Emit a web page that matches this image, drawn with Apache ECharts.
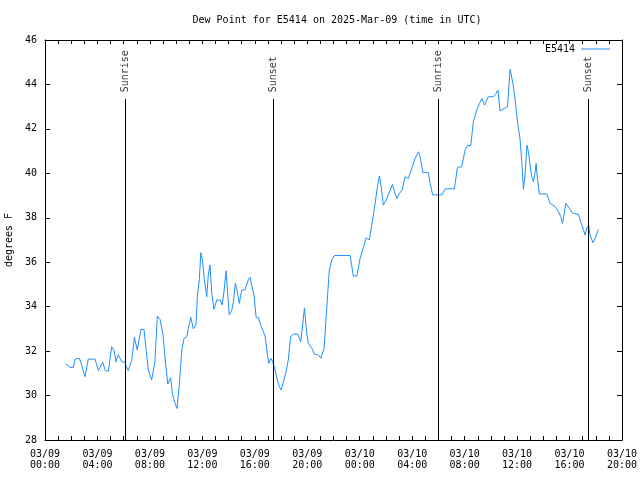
<!DOCTYPE html>
<html><head><meta charset="utf-8">
<script src="https://cdn.jsdelivr.net/npm/echarts@6/dist/echarts.min.js"></script>
<style>html,body{margin:0;padding:0;background:#fff}#c{width:640px;height:480px}</style>
</head><body><div id="c"></div>
<script>
const stationName = 'E5414';
const titleText = 'Dew Point for E5414 on 2025-Mar-09 (time in UTC)';
const yAxisName = 'degrees F';
const startUTC = Date.UTC(2025, 2, 9, 0, 0);
const spanHours = 44;
const tickHours = 4;
const yMin = 28, yMax = 46, yStep = 2;

// minutes since 2025-03-09 00:00 UTC
const minutes = [96,114,130,137,157,168,183,198,229,244,264,276,290,305,316,325,335,351,366,371,381,397,409,422,439,453,462,473,488,503,514,526,539,554,562,575,584,595,604,615,626,636,649,656,667,679,691,697,706,713,720,729,740,747,755,763,773,786,801,811,819,828,843,854,862,871,880,889,900,915,930,938,947,957,966,976,984,996,1007,1017,1024,1033,1042,1053,1063,1072,1081,1091,1103,1113,1124,1136,1156,1170,1179,1187,1198,1205,1221,1232,1251,1262,1277,1285,1294,1301,1312,1324,1396,1404,1411,1427,1442,1457,1469,1484,1495,1507,1521,1530,1538,1548,1561,1576,1590,1599,1610,1622,1634,1648,1663,1678,1693,1709,1716,1729,1754,1762,1774,1816,1831,1873,1887,1907,1922,1933,1948,1960,1976,1988,1999,2011,2029,2052,2064,2072,2082,2101,2116,2128,2141,2151,2163,2174,2182,2189,2197,2205,2212,2220,2227,2235,2243,2247,2253,2262,2296,2311,2334,2349,2360,2368,2383,2403,2415,2441,2453,2464,2471,2479,2487,2494,2507,2517,2532];
const dewPoint = [31.42,31.27,31.27,31.64,31.68,31.37,30.85,31.64,31.64,31.12,31.5,31.12,31.1,32.2,32.02,31.52,31.84,31.52,31.5,31.33,31.12,31.6,32.62,32.05,32.98,32.98,32.12,31.15,30.7,31.52,33.58,33.43,32.8,31.22,30.52,30.8,30.03,29.65,29.42,30.55,32.05,32.57,32.65,33.03,33.52,33.0,33.2,34.45,35.23,36.43,36.1,35.23,34.45,35.43,35.88,34.6,33.88,34.3,34.3,34.08,34.68,35.62,33.63,33.82,34.22,35.05,34.68,34.15,34.75,34.75,35.2,35.32,35.32,34.45,33.52,33.52,33.25,32.95,32.68,31.9,31.45,31.68,31.52,31.15,30.7,30.4,30.25,30.62,31.07,31.6,32.65,32.77,32.77,32.42,33.18,33.93,32.77,32.35,32.12,31.87,31.83,31.68,32.12,33.32,34.68,35.65,36.1,36.3,36.3,35.8,35.38,35.38,36.18,36.67,37.1,37.0,37.67,38.42,39.4,39.88,39.4,38.57,38.8,39.17,39.5,39.17,38.87,39.1,39.25,39.85,39.77,40.22,40.67,40.97,40.75,40.03,40.03,39.55,39.03,39.03,39.3,39.3,40.27,40.3,41.05,41.25,41.25,42.33,42.85,43.15,43.37,43.07,43.45,43.45,43.6,43.75,42.8,42.92,43.0,44.68,44.05,43.3,42.25,41.5,40.45,39.28,40.0,41.27,40.97,40.3,39.85,39.62,40.07,40.45,39.77,39.07,39.07,38.65,38.5,38.27,38.05,37.75,38.65,38.38,38.2,38.16,37.75,37.45,37.22,37.53,37.67,37.22,36.88,37.08,37.48];

const eventNames = ['Sunrise', 'Sunset', 'Sunrise', 'Sunset'];
const eventMinutes = [366, 1045, 1801, 2487];
const eventLineTop = 43.35;
const eventLabelBase = 43.6;

const MIN = 60000, HOUR = 3600000;
const toMs = m => startUTC + m * MIN;
const pad = n => String(n).padStart(2, '0');
const FONT = 'DejaVu Sans Mono';

const lineData = minutes.map((m, i) => [toMs(m), dewPoint[i]]);
const eventLines = eventMinutes.map(m => [{coord: [toMs(m), yMin]}, {coord: [toMs(m), eventLineTop]}]);
const eventLabels = eventMinutes.map((m, i) => ({value: [toMs(m), eventLabelBase], name: eventNames[i]}));

const xCommon = {
  type: 'value', min: startUTC, max: startUTC + spanHours * HOUR, interval: tickHours * HOUR,
  axisLine: {show: true, lineStyle: {color: '#000', width: 1}},
  axisTick: {show: true, inside: true, length: 4, lineStyle: {color: '#000'}},
  minorTick: {show: true, splitNumber: 4, length: 4, lineStyle: {color: '#000'}},
  splitLine: {show: false}
};
const yCommon = {
  type: 'value', min: yMin, max: yMax, interval: yStep,
  axisLine: {show: true, onZero: false, lineStyle: {color: '#000', width: 1}},
  axisTick: {show: true, inside: true, length: 5, lineStyle: {color: '#000'}},
  splitLine: {show: false}
};

const chart = echarts.init(document.getElementById('c'), null, {renderer: 'canvas'});
chart.setOption({
  animation: false,
  backgroundColor: '#fff',
  textStyle: {fontFamily: FONT},
  title: {
    text: titleText, left: 332, top: 10, textAlign: 'center',
    textStyle: {fontFamily: FONT, fontSize: 10, fontWeight: 'normal', color: '#000'}
  },
  legend: {
    data: [stationName], right: 25, top: 39, align: 'right',
    icon: 'rect', itemWidth: 29, itemHeight: 1, itemGap: 5,
    textStyle: {fontFamily: FONT, fontSize: 10, color: '#000', padding: [0, 1, 0, 0]}
  },
  grid: {left: 45, right: 18, top: 40, bottom: 40, containLabel: false, outerBoundsMode: 'none'},
  xAxis: [
    Object.assign({}, xCommon, {
      position: 'bottom',
      axisLabel: {
        show: true, margin: 9, fontFamily: FONT, fontSize: 10, lineHeight: 11, color: '#000',
        formatter: v => { const d = new Date(v); return pad(d.getUTCMonth() + 1) + '/' + pad(d.getUTCDate()) + '\n' + pad(d.getUTCHours()) + ':' + pad(d.getUTCMinutes()); }
      }
    }),
    Object.assign({}, xCommon, {position: 'top', axisLabel: {show: false}})
  ],
  yAxis: [
    Object.assign({}, yCommon, {
      position: 'left',
      name: yAxisName, nameLocation: 'middle', nameGap: 28, nameRotate: 90,
      nameTextStyle: {fontFamily: FONT, fontSize: 10, color: '#000'},
      axisLabel: {show: true, margin: 8, fontFamily: FONT, fontSize: 10, color: '#000'}
    }),
    Object.assign({}, yCommon, {position: 'right', axisLabel: {show: false}})
  ],
  series: [
    {
      name: stationName, type: 'line', data: lineData, showSymbol: false, symbol: 'none',
      color: '#1e90ff', lineStyle: {color: '#1e90ff', width: 1}, z: 3,
      markLine: {
        silent: true, symbol: ['none', 'none'], animation: false,
        lineStyle: {color: '#000', width: 1, type: 'solid'},
        label: {show: false},
        data: eventLines
      }
    },
    {
      name: 'events', type: 'scatter', data: eventLabels, symbolSize: 0, silent: true,
      label: {
        show: true, position: 'inside', rotate: 90, align: 'left', verticalAlign: 'middle',
        offset: [1, 0],
        formatter: p => p.name, fontFamily: FONT, fontSize: 10, color: '#000'
      }
    }
  ]
});
</script></body></html>
